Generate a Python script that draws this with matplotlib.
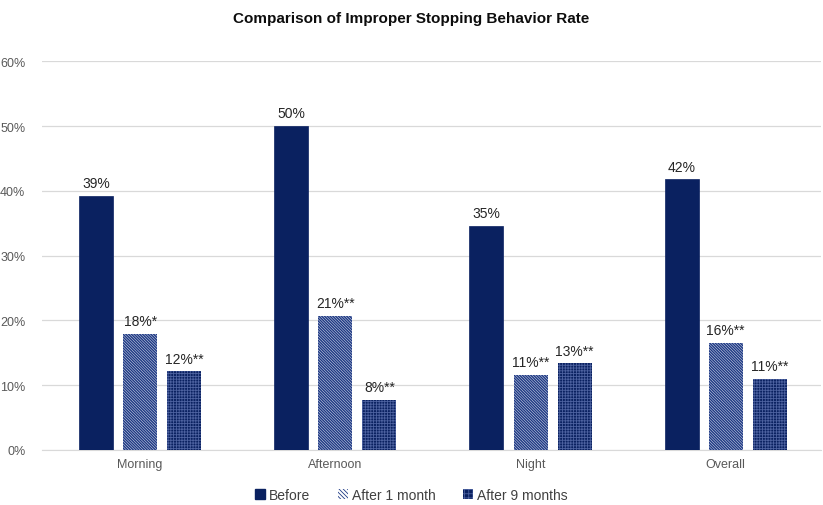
import matplotlib
matplotlib.use("Agg")
import matplotlib.pyplot as plt
import numpy as np
from matplotlib.patches import Patch

plt.rcParams['font.family'] = ['Liberation Sans', 'DejaVu Sans']

categories = ["Morning", "Afternoon", "Night", "Overall"]
series_names = ["Before", "After 1 month", "After 9 months"]
before = [39.2, 50.0, 34.6, 41.8]
after1 = [17.9, 20.7, 11.6, 16.5]
after9 = [12.1, 7.7, 13.4, 11.0]
labels_before = ["39%", "50%", "35%", "42%"]
labels_after1 = ["18%*", "21%**", "11%**", "16%**"]
labels_after9 = ["12%**", "8%**", "13%**", "11%**"]
yticks = [0, 10, 20, 30, 40, 50, 60]

navy = "#0A2160"
diag_hatch = "\\" * 12
grid_hatch = "+" * 6
fig = plt.figure(figsize=(8.23, 5.06), dpi=100)
ax = fig.add_axes([0.051, 0.109, 0.947, 0.768])

x = np.arange(len(categories))
w = 0.174
off = 0.226

b1 = ax.bar(x - off, before, w, color=navy, edgecolor=navy, linewidth=0.5, zorder=3)
plt.rcParams['hatch.linewidth'] = 1.1
b2 = ax.bar(x, after1, w, color="white", edgecolor="#1f3a85", hatch=diag_hatch, linewidth=0, zorder=3)
h2 = Patch(facecolor="white", edgecolor="#1f3a85", hatch="\\" * 8, linewidth=0)
plt.rcParams['hatch.linewidth'] = 0.6
b3 = ax.bar(x + off, after9, w, color=navy, edgecolor="#4d62a0", hatch=grid_hatch, linewidth=0, zorder=3)
h3 = Patch(facecolor=navy, edgecolor="#4d62a0", hatch="+" * 4, linewidth=0)

for bars, labs in [(b1, labels_before), (b2, labels_after1), (b3, labels_after9)]:
    for r, lab in zip(bars, labs):
        ax.annotate(lab, (r.get_x() + r.get_width() / 2, r.get_height()),
                    xytext=(0, 4), textcoords="offset points", ha="center", va="bottom",
                    fontsize=10, color="#262626")

ax.set_xlim(-0.503, 3.49)
ax.set_ylim(0, 60)
ax.set_yticks(yticks)
ax.set_yticklabels([f"{t}%" for t in yticks])
ax.set_xticks(x)
ax.set_xticklabels(categories)
ax.tick_params(axis="both", length=0, labelsize=9, colors="#595959")
ax.tick_params(axis="y", pad=12)
ax.tick_params(axis="x", pad=6)
ax.grid(axis="y", color="#d9d9d9", linewidth=0.9, zorder=0)
for s in ["top", "right", "left"]:
    ax.spines[s].set_visible(False)
ax.spines["bottom"].set_color("#d9d9d9")

fig.text(0.5, 0.962, "Comparison of Improper Stopping Behavior Rate", ha="center", va="center",
         fontsize=11, fontweight="bold", color="#0d0d0d")

handles = [Patch(facecolor=navy, edgecolor=navy), h2, h3]
fig.legend(handles, series_names, loc="center", bbox_to_anchor=(0.5, 0.02), ncol=3,
           frameon=False, fontsize=10, handlelength=0.7, handleheight=0.7,
           handletextpad=0.3, columnspacing=2.0, labelcolor="#404040")

fig.savefig("out.png", dpi=100)
